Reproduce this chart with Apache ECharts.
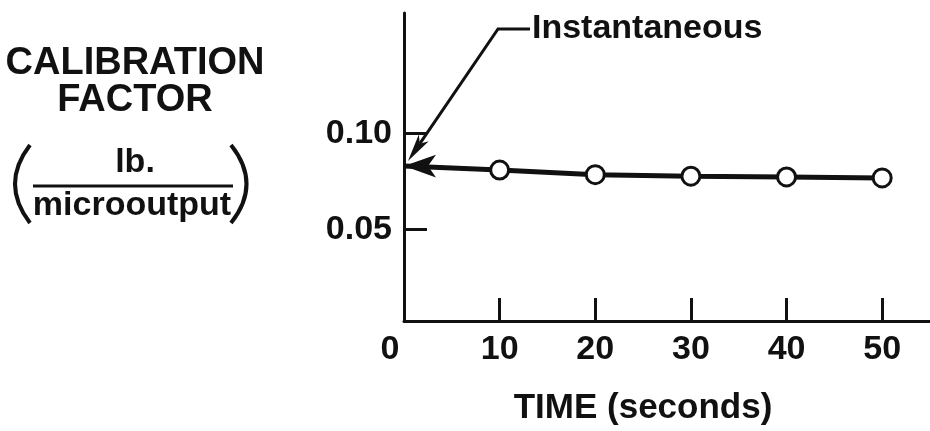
<!DOCTYPE html>
<html>
<head>
<meta charset="utf-8">
<script src="https://cdn.jsdelivr.net/npm/echarts@6/dist/echarts.min.js"></script>
<style>
  html, body { margin: 0; padding: 0; background: #fff; }
  #chart { width: 930px; height: 431px; }
</style>
</head>
<body>
<div id="chart"></div>
<script>
// values
var timeSec = [0, 10, 20, 30, 40, 50];
var calFactor = [0.083, 0.0809, 0.0785, 0.0777, 0.0773, 0.0768];
var xTickVals = [10, 20, 30, 40, 50];
var xLabelVals = [0, 10, 20, 30, 40, 50];
var yTickVals = [0.05, 0.10];

var INK = '#111';
var FONT = '"Liberation Sans", Arial, sans-serif';

var chart = echarts.init(document.getElementById('chart'), null, { renderer: 'canvas' });

var pts = [];
for (var i = 0; i < timeSec.length; i++) {
  if (i === 0) {
    // instantaneous value: arrowhead pointing at the axis
    pts.push({
      value: [timeSec[i], calFactor[i]],
      symbol: 'arrow',
      symbolSize: [17, 32],
      symbolRotate: 90,
      symbolOffset: [0, 0],
      itemStyle: { color: INK, borderWidth: 0 }
    });
  } else {
    pts.push([timeSec[i], calFactor[i]]);
  }
}

var txt = function (t, x, y, size, align) {
  return {
    type: 'text', x: x, y: y,
    style: {
      text: t, fill: INK, font: 'bold ' + size + 'px ' + FONT,
      align: align || 'center', verticalAlign: 'middle'
    }
  };
};

chart.setOption({
  backgroundColor: '#fff',
  animation: false,
  grid: { left: 404, top: 13, right: 0, bottom: 106, containLabel: false },
  xAxis: {
    type: 'value', min: 0, max: 55,
    name: 'TIME (seconds)', nameLocation: 'middle', nameGap: 70,
    nameTextStyle: { color: INK, fontSize: 35, fontWeight: 'bold', fontFamily: FONT, padding: [0, 48, 0, 0] },
    axisLine: { lineStyle: { color: INK, width: 3 } },
    axisTick: { inside: true, length: 23, customValues: xTickVals, lineStyle: { color: INK, width: 3 } },
    axisLabel: {
      customValues: xLabelVals, margin: 12, color: INK, fontSize: 34, fontWeight: 'bold', fontFamily: FONT,
      formatter: function (v) { return v === 0 ? '{z|0}' : String(v); },
      rich: { z: { fontSize: 34, fontWeight: 'bold', fontFamily: FONT, color: INK, padding: [0, 28, 0, 0] } }
    },
    splitLine: { show: false }
  },
  yAxis: {
    type: 'value', min: 0.002, max: 0.163,
    axisLine: { lineStyle: { color: INK, width: 3 } },
    axisTick: { inside: true, length: 23, customValues: yTickVals, lineStyle: { color: INK, width: 3 } },
    axisLabel: {
      customValues: yTickVals, margin: 12, color: INK, fontSize: 34, fontWeight: 'bold', fontFamily: FONT,
      formatter: function (v) { return v.toFixed(2); }
    },
    splitLine: { show: false }
  },
  series: [{
    type: 'line',
    data: pts,
    symbol: 'circle',
    symbolSize: 18,
    lineStyle: { color: INK, width: 5 },
    itemStyle: { color: '#fff', borderColor: INK, borderWidth: 3 },
    z: 3
  }]
});

// callout for the instantaneous value
var tip = chart.convertToPixel({ gridIndex: 0 }, [timeSec[0], calFactor[0]]);
var tx = tip[0] + 4, ty = tip[1] - 5;
var kx = 498, ky = 29;
var dx = tx - kx, dy = ty - ky, len = Math.sqrt(dx * dx + dy * dy);
var ux = dx / len, uy = dy / len, nx = uy, ny = -ux;
var bx = tx - 28 * ux, by = ty - 28 * uy;
var mx = tx - 21 * ux, my = ty - 21 * uy;

chart.setOption({
  graphic: [
    txt('CALIBRATION', 135, 64, 38),
    txt('FACTOR', 135, 101, 38),
    txt('lb.', 135, 163, 34),
    txt('microoutput', 132, 206, 34),
    { type: 'line', shape: { x1: 33, y1: 186, x2: 233, y2: 186 }, style: { stroke: INK, lineWidth: 3 } },
    { type: 'bezierCurve', shape: { x1: 30, y1: 145, cpx1: 0, cpy1: 184, x2: 30, y2: 223 }, style: { stroke: INK, lineWidth: 4, fill: null } },
    { type: 'bezierCurve', shape: { x1: 231, y1: 145, cpx1: 262, cpy1: 184, x2: 231, y2: 223 }, style: { stroke: INK, lineWidth: 4, fill: null } },
    txt('Instantaneous', 532, 29, 34, 'left'),
    { type: 'polyline', shape: { points: [[530, ky], [kx, ky], [mx, my]] }, style: { stroke: INK, lineWidth: 3, fill: null } },
    { type: 'polygon', shape: { points: [[tx, ty], [bx + 6 * nx, by + 6 * ny], [mx, my], [bx - 6 * nx, by - 6 * ny]] }, style: { fill: INK } }
  ]
});
</script>
</body>
</html>
